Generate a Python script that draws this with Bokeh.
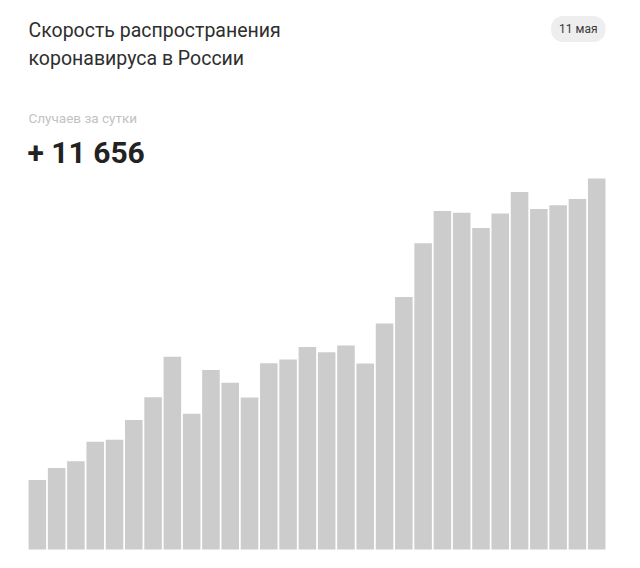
from bokeh.embed import file_html
from bokeh.models import Label, Range1d
from bokeh.plotting import figure
from bokeh.resources import INLINE

DATES = ['12.04', '13.04', '14.04', '15.04', '16.04', '17.04', '18.04', '19.04', '20.04', '21.04',
         '22.04', '23.04', '24.04', '25.04', '26.04', '27.04', '28.04', '29.04', '30.04', '01.05',
         '02.05', '03.05', '04.05', '05.05', '06.05', '07.05', '08.05', '09.05', '10.05', '11.05']
CASES = [2186, 2558, 2774, 3388, 3448, 4070, 4785, 6060, 4268, 5642,
         5236, 4774, 5849, 5966, 6361, 6198, 6411, 5841, 7099, 7933,
         9623, 10633, 10581, 10102, 10559, 11231, 10699, 10817, 11012, 11656]

TITLE = ['Скорость распространения', 'коронавируса в России']
DATE_LABEL = '11 мая'
SUBTITLE = 'Случаев за сутки'
TOTAL = '+ 11 656'

FONT = 'Roboto'
BAR_COLOR = '#cccccc'

# values per pixel and the pixel row of the bars' base, used to place the texts
PER_PX = 31.42
BASE = 549


def yv(page_y):
    return (BASE - page_y) * PER_PX


p = figure(width=640, height=568, output_backend='svg', toolbar_location=None,
           min_border=0, outline_line_color=None,
           x_range=Range1d(-1.91, 31.27), y_range=Range1d(yv(568), yv(0)))
p.axis.visible = False
p.grid.visible = False

p.vbar(x=list(range(len(CASES))), top=CASES, width=0.91, bottom=0,
       fill_color=BAR_COLOR, line_color=None)

for i, line in enumerate(TITLE):
    p.add_layout(Label(x=28, y=yv(30 + i * 27.5), x_units='screen', text=line,
                       text_font=FONT, text_font_size='19.5px', text_color='#2e2e2e',
                       text_baseline='middle'))

p.add_layout(Label(x=605, y=yv(28.4), x_units='screen', text=DATE_LABEL,
                   text_font=FONT, text_font_size='12px', text_color='#3a3a3a',
                   text_align='right', text_baseline='middle',
                   background_fill_color='#eeeeee', padding=(8, 6), border_radius=12))

p.add_layout(Label(x=28, y=yv(117.7), x_units='screen', text=SUBTITLE,
                   text_font=FONT, text_font_size='13.5px', text_color='#c2c2c2',
                   text_baseline='middle'))

p.add_layout(Label(x=27, y=yv(152.2), x_units='screen', text=TOTAL,
                   text_font=FONT, text_font_size='30px', text_font_style='bold',
                   text_color='#222222', text_baseline='middle'))

open("out.html", "w").write(file_html(p, INLINE))
